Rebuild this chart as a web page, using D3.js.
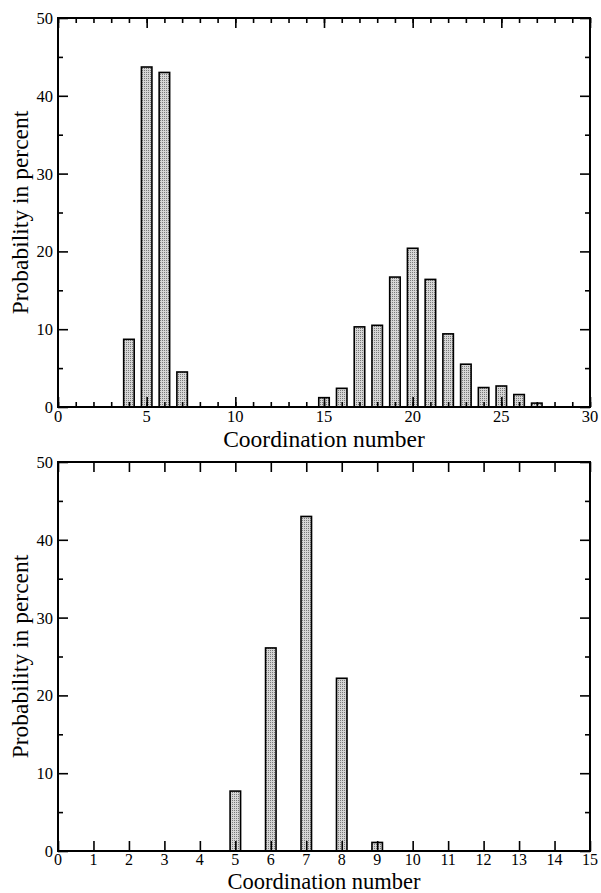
<!DOCTYPE html>
<html>
<head>
<meta charset="utf-8">
<script src="https://cdn.jsdelivr.net/npm/d3@7"></script>
<style>
  body { margin: 0; background: #fff; }
  svg { display: block; }
</style>
</head>
<body>
<div id="chart"></div>
<script>
// top panel
const topCn = [4, 5, 6, 7, 15, 16, 17, 18, 19, 20, 21, 22, 23, 24, 25, 26, 27];
const topProb = [8.7, 43.7, 43.0, 4.5, 1.2, 2.4, 10.3, 10.5, 16.7, 20.4, 16.4, 9.4, 5.5, 2.5, 2.7, 1.6, 0.5];
const topXMajor = [0, 5, 10, 15, 20, 25, 30];
const topXMinor = d3.range(0, 31, 1);

// bottom panel
const botCn = [5, 6, 7, 8, 9];
const botProb = [7.7, 26.1, 43.0, 22.2, 1.1];
const botXMajor = d3.range(0, 16, 1);

const yMajor = [0, 10, 20, 30, 40, 50];
const yMinor = [5, 15, 25, 35, 45];

const width = 601, height = 893;
const font = "'Liberation Serif', 'DejaVu Serif', serif";

const svg = d3.select("#chart").append("svg")
  .attr("width", width)
  .attr("height", height)
  .attr("font-family", font);

const defs = svg.append("defs");
const pat = defs.append("pattern")
  .attr("id", "stipple")
  .attr("patternUnits", "userSpaceOnUse")
  .attr("width", 2).attr("height", 2);
pat.append("rect").attr("width", 2).attr("height", 2).attr("fill", "#d6d6d6");
pat.append("rect").attr("width", 1).attr("height", 1).attr("fill", "#7a7a7a");

function panel(opts) {
  const x = d3.scaleLinear().domain(opts.xDomain).range([58, 590]);
  const y = d3.scaleLinear().domain([0, 50]).range([opts.bottom, opts.top]);
  const g = svg.append("g");
  const bw = opts.barW;

  g.selectAll(".bar")
    .data(opts.cn.map((c, i) => ({c: c, v: opts.prob[i]})))
    .enter().append("rect")
    .attr("x", d => x(d.c) - bw / 2)
    .attr("y", d => y(d.v))
    .attr("width", bw)
    .attr("height", d => y(0) - y(d.v))
    .attr("fill", "url(#stipple)")
    .attr("stroke", "#000")
    .attr("stroke-width", 1.6);

  function ticks(axis, vals, len, offset) {
    const a = axis.tickValues(vals).tickSize(len).tickFormat("");
    const gg = g.append("g").attr("transform", offset).call(a);
    gg.select(".domain").remove();
    gg.selectAll("line").attr("stroke", "#000").attr("stroke-width", 1.6);
  }
  const H = opts.bottom - opts.top;
  // inward ticks on all four sides
  ticks(d3.axisTop(x), opts.xMinor, 5, `translate(0,${opts.bottom})`);
  ticks(d3.axisTop(x), opts.xMajor, 10, `translate(0,${opts.bottom})`);
  ticks(d3.axisBottom(x), opts.xMinor, 5, `translate(0,${opts.top})`);
  ticks(d3.axisBottom(x), opts.xMajor, 10, `translate(0,${opts.top})`);
  ticks(d3.axisRight(y), yMinor, 5, `translate(58,0)`);
  ticks(d3.axisRight(y), yMajor, 10, `translate(58,0)`);
  ticks(d3.axisLeft(y), yMinor, 5, `translate(590,0)`);
  ticks(d3.axisLeft(y), yMajor, 10, `translate(590,0)`);

  g.append("rect")
    .attr("x", 58).attr("y", opts.top)
    .attr("width", 532).attr("height", H)
    .attr("fill", "none").attr("stroke", "#000").attr("stroke-width", 2);

  g.selectAll(".xl").data(opts.xMajor).enter().append("text")
    .attr("x", d => x(d)).attr("y", opts.bottom + opts.tickDy)
    .attr("text-anchor", "middle").attr("font-size", opts.tickSize)
    .attr("font-family", font)
    .text(d => d);
  g.selectAll(".yl").data(yMajor).enter().append("text")
    .attr("x", 53).attr("y", d => y(d) + 6)
    .attr("text-anchor", "end").attr("font-size", 16.5)
    .attr("font-family", font)
    .text(d => d);

  g.append("text")
    .attr("x", 324).attr("y", opts.bottom + opts.titleDy)
    .attr("text-anchor", "middle").attr("font-size", opts.titleSize)
    .attr("font-family", font)
    .text("Coordination number");
  g.append("text")
    .attr("transform", `translate(28,${(opts.top + opts.bottom) / 2}) rotate(-90)`)
    .attr("text-anchor", "middle").attr("font-size", 23.5)
    .attr("font-family", font)
    .text("Probability in percent");
}

panel({cn: topCn, prob: topProb, xDomain: [0, 30], xMajor: topXMajor, xMinor: topXMinor,
       top: 18, bottom: 407, barW: 10.5, tickDy: 15, tickSize: 16.5, titleDy: 39.5, titleSize: 23.5});
panel({cn: botCn, prob: botProb, xDomain: [0, 15], xMajor: botXMajor, xMinor: [],
       top: 462, bottom: 851, barW: 10.5, tickDy: 14, tickSize: 16, titleDy: 37.5, titleSize: 22.5});
</script>
</body>
</html>
